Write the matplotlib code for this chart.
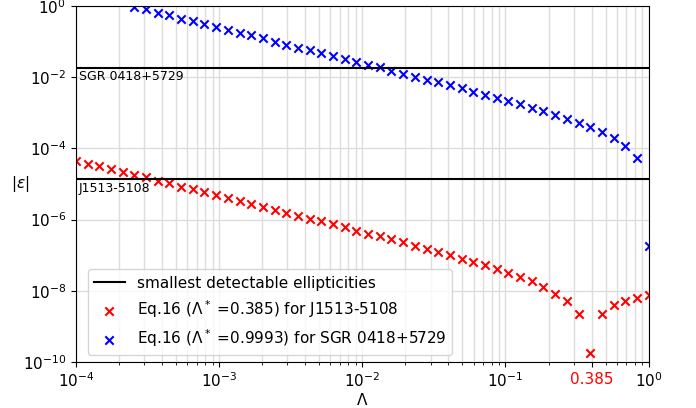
import matplotlib.pyplot as plt
import numpy as np

# sampling grid in Lambda (50 log-spaced points between 1e-4 and 1)
lam = np.logspace(-4, 0, 50)

# log10 |eps|
red_log_eps = [-4.35, -4.43, -4.49, -4.59, -4.67, -4.75, -4.81, -4.91, -4.98, -5.08,
               -5.15, -5.23, -5.32, -5.40, -5.49, -5.55, -5.64, -5.73, -5.81, -5.90,
               -5.97, -6.05, -6.13, -6.22, -6.31, -6.40, -6.47, -6.55, -6.64, -6.73,
               -6.82, -6.92, -7.00, -7.10, -7.19, -7.29, -7.40, -7.51, -7.61, -7.74,
               -7.89, -8.08, -8.29, -8.65, -9.74, -8.65, -8.41, -8.29, -8.20, -8.13]
blue_start = 5  # earlier points lie above 1 (off the plot)
blue_log_eps = [-0.02, -0.08, -0.18, -0.25, -0.35, -0.43, -0.50, -0.58, -0.67, -0.76,
                -0.81, -0.91, -1.00, -1.08, -1.17, -1.24, -1.32, -1.40, -1.50, -1.58,
                -1.65, -1.72, -1.82, -1.90, -1.99, -2.07, -2.13, -2.23, -2.31, -2.40,
                -2.49, -2.58, -2.67, -2.76, -2.86, -2.96, -3.07, -3.17, -3.29, -3.41,
                -3.54, -3.71, -3.92, -4.28, -6.74]

# smallest detectable ellipticities
eps_sgr = 1.86e-2
eps_j1513 = 1.35e-5
lam_star_tick = 0.4  # where the red "0.385" label sits on the axis

fig, ax = plt.subplots(figsize=(6.96, 4.08), dpi=100)
fig.subplots_adjust(left=0.109, right=0.932, top=0.985, bottom=0.113)

ax.axhline(eps_sgr, color="black", lw=1.5, label="smallest detectable ellipticities")
ax.axhline(eps_j1513, color="black", lw=1.5)
ax.scatter(lam, 10 ** np.array(red_log_eps), marker="x", color="red", s=36, lw=1.5,
           label=r"Eq.16 ($\Lambda^*$ =0.385) for J1513-5108")
ax.scatter(lam[blue_start:], 10 ** np.array(blue_log_eps), marker="x", color="blue", s=36, lw=1.5,
           label=r"Eq.16 ($\Lambda^*$ =0.9993) for SGR 0418+5729")

ax.text(1.05e-4, eps_sgr * 0.85, "SGR 0418+5729", fontsize=9, va="top", ha="left")
ax.text(1.05e-4, eps_j1513 * 0.85, "J1513-5108", fontsize=9, va="top", ha="left")

ax.set_xscale("log")
ax.set_yscale("log")
ax.set_xlim(1e-4, 1)
ax.set_ylim(1e-10, 1)

ticks = [1e-4, 1e-3, 1e-2, 1e-1, lam_star_tick, 1]
labels = [r"$10^{-4}$", r"$10^{-3}$", r"$10^{-2}$", r"$10^{-1}$", "0.385", r"$10^{0}$"]
ax.set_xticks(ticks)
ax.set_xticklabels(labels)
ax.get_xticklabels()[4].set_color("red")
ax.set_yticks([1e-10, 1e-8, 1e-6, 1e-4, 1e-2, 1])
ax.minorticks_off()
ax.set_xticks([m * 10.0 ** e for e in range(-4, 0) for m in range(2, 10)], minor=True)
ax.tick_params(axis="both", labelsize=11)

ax.grid(True, which="major", color="#dddddd", lw=1)
ax.grid(True, which="minor", axis="x", color="#dddddd", lw=1)
ax.set_axisbelow(True)

ax.set_xlabel(r"$\Lambda$", fontsize=11, labelpad=1)
ax.set_ylabel(r"$|\epsilon|$", fontsize=11, rotation=0, labelpad=2, va="center")

ax.legend(loc="lower left", fontsize=11, bbox_to_anchor=(0.008, -0.003), labelspacing=0.5)

plt.savefig("out.png", dpi=100)
plt.close()
